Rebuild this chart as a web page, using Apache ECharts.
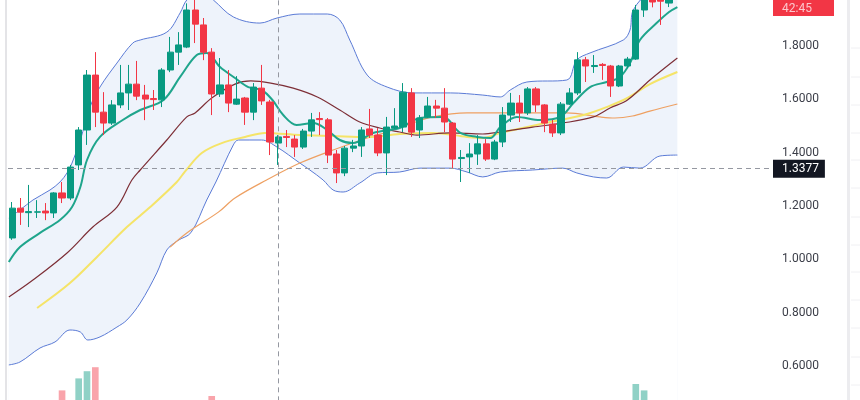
<!DOCTYPE html>
<html><head><meta charset="utf-8">
<script src="https://cdn.jsdelivr.net/npm/echarts/dist/echarts.min.js"></script>
<style>html,body{margin:0;padding:0;background:#fff}#c{width:860px;height:400px}</style>
</head><body><div id="c"></div>
<script>
// ---- candle data (81 bars) ----
const opens = [1.080,1.192,1.175,1.177,1.181,1.174,1.249,1.230,1.354,1.485,
1.691,1.552,1.511,1.579,1.624,1.657,1.616,1.603,1.598,1.710,
1.777,1.796,1.935,1.879,1.777,1.620,1.654,1.582,1.605,1.552,
1.642,1.590,1.436,1.461,1.451,1.421,1.481,1.528,1.523,1.395,
1.324,1.417,1.425,1.489,1.466,1.399,1.492,1.496,1.624,1.485,
1.534,1.575,1.567,1.511,1.378,1.384,1.395,1.433,1.376,1.440,
1.541,1.586,1.549,1.639,1.579,1.507,1.474,1.582,1.624,1.748,
1.723,1.731,1.725,1.650,1.725,1.751,1.935,2.000,1.995,1.961,1.985];
const closes = [1.192,1.177,1.179,1.178,1.174,1.249,1.230,1.346,1.485,1.691,
1.552,1.511,1.579,1.624,1.657,1.612,1.601,1.599,1.710,1.777,
1.804,1.935,1.882,1.777,1.620,1.654,1.586,1.601,1.552,1.646,
1.594,1.440,1.459,1.457,1.421,1.481,1.523,1.524,1.391,1.324,
1.417,1.425,1.485,1.466,1.399,1.496,1.500,1.627,1.477,1.530,
1.575,1.567,1.515,1.376,1.382,1.395,1.433,1.376,1.440,1.541,
1.586,1.549,1.639,1.579,1.511,1.474,1.582,1.624,1.748,1.725,
1.727,1.727,1.650,1.725,1.751,1.935,1.990,1.965,1.968,1.980,2.040];
const lows = [1.073,1.129,1.121,1.155,1.147,1.155,1.211,1.222,1.335,1.429,
1.496,1.466,1.504,1.567,1.560,1.597,1.522,1.560,1.571,1.702,
1.729,1.792,1.811,1.747,1.541,1.609,1.552,1.579,1.504,1.522,
1.579,1.391,1.354,1.421,1.384,1.414,1.459,1.466,1.361,1.286,
1.312,1.402,1.384,1.455,1.387,1.316,1.489,1.477,1.459,1.455,
1.530,1.530,1.477,1.342,1.290,1.324,1.354,1.369,1.372,1.421,
1.515,1.515,1.541,1.552,1.477,1.459,1.466,1.579,1.616,1.665,
1.699,1.673,1.609,1.646,1.717,1.748,1.909,1.945,1.879,1.946,1.980];
const highs = [1.215,1.230,1.279,1.222,1.211,1.252,1.290,1.354,1.496,1.710,
1.777,1.627,1.597,1.729,1.729,1.744,1.654,1.635,1.717,1.834,
1.852,1.960,1.975,1.905,1.792,1.755,1.710,1.687,1.609,1.661,
1.729,1.598,1.466,1.485,1.466,1.489,1.549,1.552,1.530,1.410,
1.425,1.448,1.496,1.564,1.492,1.534,1.567,1.661,1.642,1.541,
1.609,1.598,1.642,1.515,1.410,1.436,1.466,1.451,1.448,1.571,
1.624,1.616,1.646,1.646,1.582,1.523,1.590,1.642,1.777,1.759,
1.766,1.736,1.729,1.729,1.759,1.954,2.030,2.020,2.010,2.000,2.060];
const volumes = [14,12,10,9,8,16,37,20,52,61,
66,22,15,14,12,13,10,9,18,20,
19,24,22,18,30,14,13,11,12,15,
14,22,13,10,11,12,13,10,18,16,
14,9,13,12,14,16,10,18,17,12,
11,9,12,20,14,10,11,12,11,17,
14,11,15,13,12,10,16,13,22,12,
10,9,14,13,12,45,37,20,15,8,10];

// ---- indicator lines, [bar index, value] ----
const bbUpper = [[-0.4,1.155],[0.94,1.185],[2.5,1.2225],[4.55,1.26],[5.75,1.29],[6.6,1.324],[7.2,1.361],[8.2,1.4475],[9.36,1.571],[10.56,1.646],[12.6,1.736],[14.5,1.811],[15.4,1.8225],[18.6,1.852],[20.2,1.924],[21.0,1.9725],[22.6,2.01],[24.2,1.9725],[26.6,1.909],[29.8,1.886],[31.85,1.905],[34.6,1.92],[37.9,1.92],[39.4,1.8975],[40.6,1.8225],[42.7,1.691],[45.1,1.646],[48.2,1.624],[52.7,1.624],[56.6,1.616],[58.7,1.609],[59.9,1.635],[61.9,1.665],[66.7,1.6725],[67.9,1.7475],[69.5,1.774],[73.5,1.8225],[74.3,1.86],[74.7,1.935],[76.7,2.0025],[80,2.04]];
const bbLower = [[-0.4,0.604],[0.94,0.615],[3.35,0.6675],[5.15,0.69],[6.95,0.735],[8.2,0.7275],[9.1,0.6975],[10.56,0.709],[12.6,0.746],[13.8,0.7725],[15.4,0.836],[17.4,0.949],[18.6,1.035],[19.9,1.07],[21.5,1.10],[23.4,1.2225],[24.5,1.29],[26.6,1.429],[27.2,1.4475],[30.0,1.4475],[31.85,1.421],[34.6,1.361],[35.8,1.335],[37.4,1.2975],[38.6,1.26],[39.8,1.2525],[41.8,1.286],[43.9,1.324],[46.6,1.3275],[49.05,1.342],[52.7,1.342],[54.7,1.3275],[56.6,1.309],[58.7,1.3275],[62.6,1.335],[66.2,1.342],[67.9,1.324],[69.9,1.309],[71.5,1.305],[73.5,1.346],[75.5,1.342],[77.9,1.3875],[80,1.391]];
const emaFast = [[-0.4,0.99],[0.94,1.046],[3.35,1.099],[5.75,1.1475],[7.2,1.196],[8.2,1.271],[9.0,1.3725],[10.56,1.459],[13.3,1.5225],[15.4,1.56],[18.2,1.5975],[20.2,1.684],[22.2,1.766],[23.4,1.774],[25.0,1.721],[26.8,1.68],[28.4,1.646],[30.0,1.635],[31.3,1.5975],[32.6,1.541],[34.2,1.504],[36.2,1.511],[37.9,1.485],[39.4,1.4475],[41.0,1.436],[43.4,1.474],[46.6,1.4925],[49.05,1.53],[51.8,1.534],[53.9,1.474],[55.9,1.459],[57.5,1.455],[58.7,1.496],[60.7,1.534],[63.5,1.5225],[65.9,1.534],[67.5,1.586],[69.5,1.646],[71.5,1.665],[73.1,1.684],[74.3,1.736],[75.5,1.8225],[77.5,1.886],[79,1.9275],[80,1.946]];
const smaMid = [[-0.4,0.859],[2.5,0.9225],[6.6,1.024],[9.7,1.121],[12.6,1.196],[14.4,1.2975],[15.4,1.335],[18.6,1.4475],[21.0,1.534],[22.0,1.549],[24.0,1.605],[26.8,1.657],[28.7,1.669],[31.1,1.661],[33.8,1.642],[36.7,1.609],[39.4,1.56],[41.8,1.515],[44.2,1.4925],[46.6,1.4775],[48.7,1.466],[52.7,1.474],[56.6,1.47],[58.7,1.4775],[62.6,1.496],[66.2,1.511],[69.9,1.534],[71.9,1.5675],[74.0,1.5975],[76.7,1.6725],[80,1.755]];
const smaSlow = [[3.0,0.8175],[6.95,0.911],[10.2,1.009],[13.8,1.121],[16.6,1.196],[19.8,1.29],[20.8,1.33],[22.8,1.399],[25.2,1.436],[28.0,1.459],[30.4,1.474],[34.6,1.466],[38.6,1.4625],[42.7,1.459],[46.6,1.47],[50.6,1.474],[54.7,1.459],[56.6,1.455],[58.7,1.474],[64.7,1.515],[68.7,1.541],[71.5,1.571],[74.0,1.605],[76.7,1.657],[80,1.7025]];
const smaLong = [[19.0,1.046],[21.0,1.099],[24.8,1.177],[26.8,1.23],[30.6,1.2975],[34.6,1.361],[38.6,1.41],[42.7,1.455],[45.1,1.4775],[47.5,1.504],[50.6,1.534],[54.7,1.549],[62.6,1.549],[66.7,1.549],[70.7,1.534],[72.5,1.53],[74.6,1.5375],[76.7,1.556],[80,1.5825]];

// ---- axis / labels ----
const yTicks = {min: 0.4, max: 2.0, interval: 0.2};
const crosshairIndex = 32;
const crosshairValue = 1.3377;
const countdownText = '42:45';
const N_CAT = 92;
const categories = Array.from({length: N_CAT}, (_, i) => String(i + 1));

const UP = '#089981', DOWN = '#f23645';
const UP_VOL = 'rgba(8,153,129,0.45)', DOWN_VOL = 'rgba(242,54,69,0.45)';

const candleData = opens.map((o, i) => [o, closes[i], lows[i], highs[i]]);
const volData = volumes.map((v, i) => ({value: v, itemStyle: {color: closes[i] >= opens[i] ? UP_VOL : DOWN_VOL}}));

const chart = echarts.init(document.getElementById('c'), null, {renderer: 'canvas'});

function lineSeries(data, color, width, extra) {
  return Object.assign({
    type: 'line', xAxisIndex: 1, yAxisIndex: 0, data: data, smooth: 0.35,
    symbol: 'none', silent: true, lineStyle: {color: color, width: width}, z: 3
  }, extra || {});
}

const gridLines = [];
[48,77,105,133,160,188,217,245,272,300,328,357,385].forEach(y => {
  gridLines.push({type: 'line', shape: {x1: 851, y1: y, x2: 860, y2: y}, style: {stroke: '#f0f0f3', lineWidth: 1}, silent: true});
});

chart.setOption({
  animation: false,
  backgroundColor: '#ffffff',
  grid: [
    {left: 8, right: 87, top: -7.33, bottom: -19.33, outerBoundsMode: 'none', containLabel: false},
    {left: 8, right: 87, top: 340, bottom: -20, outerBoundsMode: 'none', containLabel: false}
  ],
  xAxis: [
    {type: 'category', gridIndex: 0, data: categories, boundaryGap: true, show: false},
    {type: 'value', gridIndex: 0, min: -0.5, max: N_CAT - 0.5, show: false},
    {type: 'category', gridIndex: 1, data: categories, boundaryGap: true, show: false}
  ],
  yAxis: [
    {type: 'value', gridIndex: 0, position: 'right', min: yTicks.min, max: yTicks.max, interval: yTicks.interval,
     axisLine: {show: false}, axisTick: {show: false}, splitLine: {show: false},
     axisLabel: {margin: 9, color: '#3b3e48', fontSize: 12, fontFamily: 'Roboto', formatter: v => v.toFixed(4)}},
    {type: 'value', gridIndex: 1, min: 0, max: 100, show: false}
  ],
  series: [
    lineSeries(bbUpper, '#5b7bd6', 1, {areaStyle: {color: '#eef3fb', origin: 'start', opacity: 1}, z: 1}),
    lineSeries(bbLower, '#5b7bd6', 1, {areaStyle: {color: '#ffffff', origin: 'start', opacity: 1}, z: 1}),
    lineSeries(smaLong, '#eea062', 1.2),
    lineSeries(smaSlow, '#f5e468', 2),
    lineSeries(smaMid, '#7d2e36', 1.2),
    lineSeries(emaFast, '#1fa58c', 2),
    {
      type: 'candlestick', xAxisIndex: 0, yAxisIndex: 0, data: candleData, barWidth: '80%', z: 4,
      itemStyle: {color: UP, color0: DOWN, borderColor: UP, borderColor0: DOWN, borderWidth: 1},
      markLine: {
        silent: true, symbol: ['none', 'none'], animation: false, z: 6,
        lineStyle: {color: '#9598a1', type: [5, 4], width: 1},
        data: [
          {xAxis: categories[crosshairIndex], label: {show: false}},
          {yAxis: crosshairValue, label: {show: true, position: 'end', distance: 0, formatter: crosshairValue.toFixed(4),
            backgroundColor: '#131722', color: '#ffffff', fontSize: 12, fontFamily: 'Roboto', padding: [3, 6, 3, 9], lineHeight: 12}}
        ]
      }
    },
    {type: 'bar', xAxisIndex: 2, yAxisIndex: 1, data: volData, barWidth: '80%', silent: true, z: 2}
  ],
  graphic: [
    {type: 'rect', shape: {x: 5, y: 0, width: 2, height: 400}, style: {fill: '#e4e4e7'}, silent: true},
    {type: 'rect', shape: {x: 847, y: 0, width: 3, height: 400}, style: {fill: '#ececef'}, silent: true},
    ...gridLines,
    {type: 'rect', shape: {x: 773, y: -14, width: 61, height: 30}, style: {fill: '#f23645'}, silent: true, z: 10},
    {type: 'text', x: 782, y: 9, style: {text: countdownText, fill: 'rgba(255,255,255,0.72)', font: '12px Roboto', textVerticalAlign: 'middle', verticalAlign: 'middle'}, silent: true, z: 11}
  ]
});
</script></body></html>
